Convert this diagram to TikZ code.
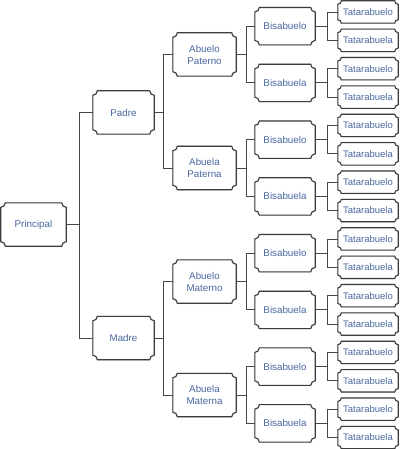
\documentclass[tikz,border=0pt]{standalone}
\usepackage{fontspec}
\setmainfont{Liberation Sans}
\usetikzlibrary{backgrounds}
\definecolor{txtblue}{RGB}{72,104,160}
\definecolor{edgegray}{RGB}{60,60,60}
\definecolor{linkgray}{RGB}{70,70,70}
\tikzset{
  box/.style={inner sep=0pt, text=txtblue, font=\fontsize{9.8}{12}\selectfont, align=center},
  mainbox/.style={box, minimum height=43pt},
  bisabox/.style={box, minimum width=60pt, minimum height=37pt},
  leafbox/.style={box, minimum width=60pt, minimum height=22pt, font=\fontsize{9.5}{11}\selectfont},
  boxline/.style={draw=edgegray, line width=1.1pt, fill=white, line join=round},
  shadowline/.style={draw=black!12, line width=1.6pt, fill=black!8},
  link/.style={draw=linkgray, line width=0.9pt}
}
\newcommand\myplaque[3]{%
  \path[#3] ([xshift=#2]#1.north west) -- ([xshift=-#2]#1.north east)
    arc[start angle=180,end angle=270,radius=#2]
    -- ([yshift=#2]#1.south east)
    arc[start angle=90,end angle=180,radius=#2]
    -- ([xshift=#2]#1.south west)
    arc[start angle=0,end angle=90,radius=#2]
    -- ([yshift=-#2]#1.north west)
    arc[start angle=270,end angle=360,radius=#2] -- cycle;}
\begin{document}
\begin{tikzpicture}[x=1pt,y=1pt]
\useasboundingbox (0,0) rectangle (400,-449);
% leaves
\foreach \i in {0,...,15}{
  \pgfmathsetmacro\yy{-(12+28.37*\i)}
  \node[leafbox] (l\i) at (368,\yy) {\ifodd\i\relax Tatarabuela\else Tatarabuelo\fi};
}
% bisabuelos
\foreach \i in {0,...,7}{
  \pgfmathsetmacro\yy{-(26.2+56.74*\i)}
  \node[bisabox] (b\i) at (285,\yy) {\ifodd\i\relax Bisabuela\else Bisabuelo\fi};
}
% abuelos
\node[mainbox, minimum width=63pt] (a0) at (204.5,-54.5) {Abuelo\\Paterno};
\node[mainbox, minimum width=63pt] (a1) at (204.5,-168) {Abuela\\Paterna};
\node[mainbox, minimum width=63pt] (a2) at (204.5,-281.5) {Abuelo\\Materno};
\node[mainbox, minimum width=63pt] (a3) at (204.5,-395) {Abuela\\Materna};
% padres
\node[mainbox, minimum width=61pt] (f0) at (123.5,-112.5) {Padre};
\node[mainbox, minimum width=61pt] (f1) at (123.5,-338) {Madre};
% principal
\node[mainbox, minimum width=65pt] (p) at (33.5,-224.5) {Principal};
% plaques
\begin{pgfonlayer}{background}
  \foreach \n in {p,f0,f1,a0,a1,a2,a3,b0,b1,b2,b3,b4,b5,b6,b7}{
    \begin{scope}[xshift=1pt,yshift=-1pt]\myplaque{\n}{4.5pt}{shadowline}\end{scope}
    \myplaque{\n}{4.5pt}{boxline}
  }
  \foreach \i in {0,...,15}{
    \begin{scope}[xshift=1pt,yshift=-1pt]\myplaque{l\i}{3.5pt}{shadowline}\end{scope}
    \myplaque{l\i}{3.5pt}{boxline}
  }
\end{pgfonlayer}
% connectors
\foreach \c in {f0,f1}{ \draw[link] (p.east) -- ++(13,0) |- (\c.west); }
\draw[link] (f0.east) -- ++(9,0) |- (a0.west);
\draw[link] (f0.east) -- ++(9,0) |- (a1.west);
\draw[link] (f1.east) -- ++(9,0) |- (a2.west);
\draw[link] (f1.east) -- ++(9,0) |- (a3.west);
\foreach \i in {0,...,3}{
  \pgfmathtruncatemacro\ba{2*\i}
  \pgfmathtruncatemacro\bb{2*\i+1}
  \draw[link] (a\i.east) -- ++(10,0) |- (b\ba.west);
  \draw[link] (a\i.east) -- ++(10,0) |- (b\bb.west);
}
\foreach \i in {0,...,7}{
  \pgfmathtruncatemacro\la{2*\i}
  \pgfmathtruncatemacro\lb{2*\i+1}
  \draw[link] (b\i.east) -- ++(12,0) |- (l\la.west);
  \draw[link] (b\i.east) -- ++(12,0) |- (l\lb.west);
}
\end{tikzpicture}
\end{document}
